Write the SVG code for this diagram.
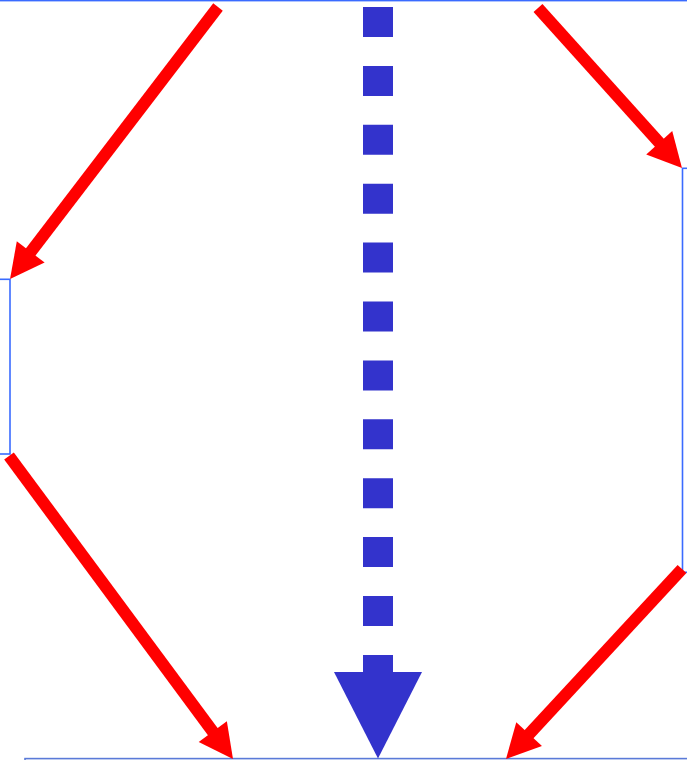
<svg xmlns="http://www.w3.org/2000/svg" width="687" height="760" viewBox="0 0 687 760">
<style>
.node{fill:none;stroke:#3a6bff;stroke-width:1.6}
.nodeb{fill:none;stroke:#5a7ad8;stroke-width:1.6}
.red{stroke:#ff0000;stroke-width:12;fill:none}
.dash{stroke:#3333cc;stroke-width:30;fill:none;stroke-dasharray:30 28.9}
</style>
<defs>
<marker id="ah" markerUnits="userSpaceOnUse" markerWidth="34" markerHeight="35" refX="14" refY="17.5" orient="auto" overflow="visible">
<path d="M0,0 L34,17.5 L0,35 z" fill="#ff0000"/>
</marker>
</defs>
<rect width="687" height="760" fill="#ffffff"/>
<g id="node-top"><rect class="node" x="-10" y="-100" width="710" height="100.6"/></g>
<g id="node-left"><rect class="node" x="-100" y="279.3" width="110" height="174.7"/></g>
<g id="node-right"><rect class="node" x="682.5" y="168.3" width="100" height="404"/></g>
<g id="node-bottom"><rect class="nodeb" x="25" y="758.6" width="700" height="100"/></g>
<g id="connectors">
<line class="red" x1="218" y1="7" x2="22.2" y2="263.1" marker-end="url(#ah)"/>
<line class="red" x1="538" y1="8" x2="668.6" y2="153.1" marker-end="url(#ah)"/>
<line class="red" x1="9" y1="456" x2="221.1" y2="742.9" marker-end="url(#ah)"/>
<line class="red" x1="682" y1="569" x2="519.6" y2="744.3" marker-end="url(#ah)"/>
<line class="dash" x1="378" y1="7" x2="378" y2="672.5"/>
<polygon points="334,672 422,672 378,758.5" fill="#3333cc"/>
</g>
</svg>
